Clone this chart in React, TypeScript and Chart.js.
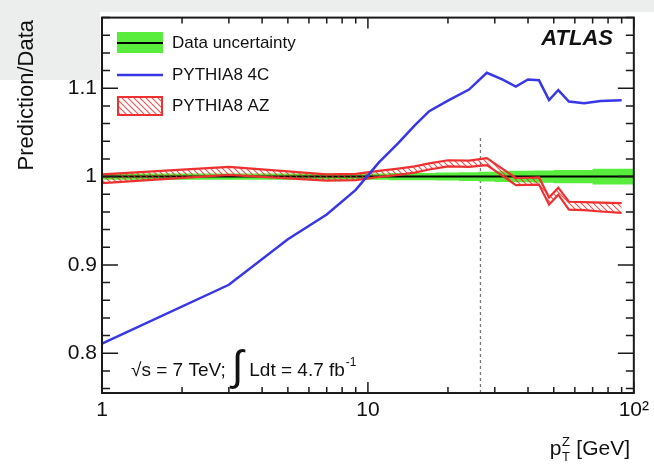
import React, { useEffect, useRef } from 'react';
import { Chart, registerables } from 'chart.js';

Chart.register(...registerables);

// ---- data ----
const binCenters = [1, 3, 5, 7, 9, 11, 13, 15, 17, 20, 24, 28, 32, 36, 40, 44, 48, 52, 57, 65, 75, 90];
const binEdges = [1, 2, 4, 6, 8, 10, 12, 14, 16, 18, 22, 26, 30, 34, 38, 42, 46, 50, 54, 60, 70, 80, 100];
const pythia4C = [0.811, 0.8775, 0.929, 0.957, 0.985, 1.016, 1.038, 1.058, 1.074, 1.086, 1.0985, 1.1175, 1.110, 1.102, 1.110, 1.109, 1.0865, 1.098, 1.085, 1.083, 1.0855, 1.0865];
const pythiaAZ = [0.9975, 1.0065, 1.002, 0.999, 0.9995, 1.003, 1.0055, 1.008, 1.0115, 1.015, 1.0145, 1.017, 1.005, 0.9944, 0.9947, 0.995, 0.9722, 0.9835, 0.967, 0.9665, 0.9655, 0.9645];
const pythiaAZHalf = [0.005, 0.0045, 0.004, 0.0035, 0.0035, 0.0035, 0.0035, 0.0035, 0.0035, 0.0035, 0.0035, 0.004, 0.004, 0.004, 0.004, 0.004, 0.004, 0.004, 0.0045, 0.0045, 0.005, 0.0055];
const dataRatio = [1, 1, 1, 1, 1, 1, 1, 1, 1, 1, 1, 1, 1, 1, 1, 1, 1, 1, 1, 1, 1, 1];
const dataUncHalf = [0.0035, 0.0035, 0.0035, 0.0035, 0.0035, 0.0035, 0.004, 0.004, 0.004, 0.0045, 0.005, 0.0055, 0.006, 0.0065, 0.0065, 0.007, 0.007, 0.0075, 0.0075, 0.0075, 0.009, 0.009];

const cutX = 26.5;
const cutYTop = 1.046;

const xMajorTicks = [1, 10, 100];
const xMajorLabels = ['1', '10', '10\u00B2'];
const xMinorTicks = [2, 3, 4, 5, 6, 7, 8, 9, 20, 30, 40, 50, 60, 70, 80, 90];
const yMajorTicks = [0.8, 0.9, 1.0, 1.1];
const yMajorLabels = ['0.8', '0.9', '1', '1.1'];
const yMinorTicks = [0.76, 0.78, 0.82, 0.84, 0.86, 0.88, 0.92, 0.94, 0.96, 0.98, 1.02, 1.04, 1.06, 1.08, 1.12, 1.14, 1.16, 1.18];

const legendLabels = ['Data uncertainty', 'PYTHIA8 4C', 'PYTHIA8 AZ'];

const FONT = '"Liberation Sans", Arial, Helvetica, sans-serif';
const BLUE = 'rgb(55,55,232)';
const RED = 'rgb(238,48,48)';
const GREEN = 'rgb(88,236,60)';

function makeHatch(): CanvasPattern | string {
  const c = document.createElement('canvas');
  c.width = 6;
  c.height = 6;
  const g = c.getContext('2d');
  if (!g) return 'rgba(236,52,52,0.3)';
  g.strokeStyle = 'rgba(236,52,52,0.85)';
  g.lineWidth = 1.1;
  g.beginPath();
  g.moveTo(-1, -1); g.lineTo(7, 7);
  g.moveTo(-1, 5); g.lineTo(1, 7);
  g.moveTo(5, -1); g.lineTo(7, 1);
  g.stroke();
  const p = g.createPattern(c, 'repeat');
  return p || 'rgba(236,52,52,0.3)';
}

export default function App() {
  const ref = useRef<HTMLCanvasElement | null>(null);

  useEffect(() => {
    const canvas = ref.current;
    if (!canvas) return;
    const hatch = makeHatch();

    const greenUpper: { x: number; y: number }[] = [];
    const greenLower: { x: number; y: number }[] = [];
    const central: { x: number; y: number }[] = [];
    dataUncHalf.forEach((h, i) => {
      greenUpper.push({ x: binEdges[i], y: dataRatio[i] + h }, { x: binEdges[i + 1], y: dataRatio[i] + h });
      greenLower.push({ x: binEdges[i], y: dataRatio[i] - h }, { x: binEdges[i + 1], y: dataRatio[i] - h });
      central.push({ x: binEdges[i], y: dataRatio[i] }, { x: binEdges[i + 1], y: dataRatio[i] });
    });
    const blue = binCenters.map((x, i) => ({ x, y: pythia4C[i] }));
    const azUp = binCenters.map((x, i) => ({ x, y: pythiaAZ[i] + pythiaAZHalf[i] }));
    const azLo = binCenters.map((x, i) => ({ x, y: pythiaAZ[i] - pythiaAZHalf[i] }));

    const bgPlugin = {
      id: 'bg',
      beforeDraw(chart: any) {
        const c = chart.ctx;
        c.save();
        c.fillStyle = '#ffffff';
        c.fillRect(0, 0, chart.width, chart.height);
        c.fillStyle = '#eceeee';
        c.fillRect(0, 0, chart.width, 12);
        c.fillRect(0, 0, 100, 80);
        c.restore();
      },
    };

    const framePlugin = {
      id: 'frame',
      afterDraw(chart: any) {
        const c = chart.ctx;
        const { left: L, right: R, top: T, bottom: B } = chart.chartArea;
        const xs = chart.scales.x;
        const ys = chart.scales.y;
        c.save();
        c.strokeStyle = '#1a1a1a';
        c.lineWidth = 1.5;
        c.beginPath();
        yMajorTicks.forEach((v) => {
          const p = ys.getPixelForValue(v);
          c.moveTo(L, p); c.lineTo(L + 16, p);
          c.moveTo(R, p); c.lineTo(R - 16, p);
        });
        yMinorTicks.forEach((v) => {
          const p = ys.getPixelForValue(v);
          c.moveTo(L, p); c.lineTo(L + 8, p);
          c.moveTo(R, p); c.lineTo(R - 8, p);
        });
        xMajorTicks.forEach((v) => {
          const p = xs.getPixelForValue(v);
          c.moveTo(p, B); c.lineTo(p, B - 11);
          c.moveTo(p, T); c.lineTo(p, T + 11);
        });
        xMinorTicks.forEach((v) => {
          const p = xs.getPixelForValue(v);
          c.moveTo(p, B); c.lineTo(p, B - 6);
          c.moveTo(p, T); c.lineTo(p, T + 6);
        });
        c.stroke();
        c.lineWidth = 2;
        c.strokeRect(L, T, R - L, B - T);

        // legend
        const lx = 117, lw = 46;
        c.fillStyle = GREEN;
        c.fillRect(lx, 32, lw, 21);
        c.strokeStyle = '#000';
        c.lineWidth = 2;
        c.beginPath(); c.moveTo(lx, 43); c.lineTo(lx + lw, 43); c.stroke();
        c.strokeStyle = BLUE;
        c.lineWidth = 2.5;
        c.beginPath(); c.moveTo(lx, 75); c.lineTo(lx + lw, 75); c.stroke();
        c.fillStyle = hatch as any;
        c.fillRect(lx, 96, lw, 20);
        c.strokeStyle = RED;
        c.lineWidth = 2;
        c.strokeRect(lx + 1, 97, lw - 2, 18);
        c.fillStyle = '#111';
        c.font = `17px ${FONT}`;
        c.textBaseline = 'middle';
        c.textAlign = 'left';
        c.fillText(legendLabels[0], 172, 43);
        c.fillText(legendLabels[1], 172, 75);
        c.fillText(legendLabels[2], 172, 106);

        // ATLAS
        c.font = `italic bold 22px ${FONT}`;
        c.textAlign = 'right';
        c.textBaseline = 'alphabetic';
        c.fillText('ATLAS', 613, 45);

        // annotation
        c.textAlign = 'left';
        c.font = `19px ${FONT}`;
        let ax = 131;
        const ab = 376;
        const s1 = '\u221As = 7 TeV;';
        c.fillText(s1, ax, ab);
        ax += c.measureText(s1).width + 6;
        c.font = `42px ${FONT}`;
        c.fillText('\u222B', ax, ab + 4);
        ax += c.measureText('\u222B').width + 6;
        c.font = `19px ${FONT}`;
        const s2 = 'Ldt = 4.7 fb';
        c.fillText(s2, ax, ab);
        ax += c.measureText(s2).width + 1;
        c.font = `12px ${FONT}`;
        c.fillText('-1', ax, ab - 10);

        // y title
        c.save();
        c.translate(27, 20);
        c.rotate(-Math.PI / 2);
        c.font = `22px ${FONT}`;
        c.textAlign = 'right';
        c.textBaseline = 'middle';
        c.fillText('Prediction/Data', 0, 0);
        c.restore();

        // x title
        c.font = `21px ${FONT}`;
        const wp = c.measureText('p').width;
        c.font = `13px ${FONT}`;
        const wsub = Math.max(c.measureText('T').width, c.measureText('Z').width);
        c.font = `21px ${FONT}`;
        const rest = ' [GeV]';
        const wr = c.measureText(rest).width;
        let tx = 630 - (wp + wsub + 1 + wr);
        const tb = 455;
        c.fillText('p', tx, tb);
        tx += wp + 0.5;
        c.font = `13px ${FONT}`;
        c.fillText('Z', tx, tb - 9);
        c.fillText('T', tx, tb + 6);
        tx += wsub + 0.5;
        c.font = `21px ${FONT}`;
        c.fillText(rest, tx, tb);
        c.restore();
      },
    };

    const chart = new Chart(canvas, {
      type: 'line',
      data: {
        datasets: [
          { data: blue, borderColor: BLUE, borderWidth: 2.5, fill: false, order: 0, pointRadius: 0 },
          { data: azUp, borderColor: RED, borderWidth: 2.2, fill: false, order: 1, pointRadius: 0 },
          { data: azLo, borderColor: RED, borderWidth: 2.2, fill: 1, backgroundColor: hatch as any, order: 1, pointRadius: 0 },
          { data: central, borderColor: '#000', borderWidth: 2, fill: false, order: 2, pointRadius: 0 },
          { data: greenUpper, borderColor: GREEN, borderWidth: 0, fill: false, order: 3, pointRadius: 0 },
          { data: greenLower, borderColor: GREEN, borderWidth: 0, fill: 4, backgroundColor: GREEN, order: 3, pointRadius: 0 },
          {
            data: [{ x: cutX, y: 0.755 }, { x: cutX, y: cutYTop }],
            borderColor: '#777', borderWidth: 1.3, borderDash: [3, 3], fill: false, order: 4, pointRadius: 0,
          },
        ] as any,
      },
      options: {
        animation: false,
        responsive: false,
        events: [],
        layout: { padding: { top: 13, right: 17, left: 0, bottom: 0 } },
        plugins: { legend: { display: false }, tooltip: { enabled: false } },
        elements: { point: { radius: 0 }, line: { tension: 0 } },
        scales: {
          x: {
            type: 'logarithmic',
            min: 1,
            max: 100,
            grid: { display: false, drawTicks: false },
            border: { display: false },
            afterBuildTicks: (s: any) => { s.ticks = xMajorTicks.map((v) => ({ value: v })); },
            afterFit: (s: any) => { s.height = 74; },
            ticks: {
              autoSkip: false,
              maxRotation: 0,
              padding: 5,
              color: '#111',
              font: { family: FONT, size: 21 },
              callback: (v: any) => {
                const i = xMajorTicks.findIndex((t) => Math.abs(t - Number(v)) < 1e-6);
                return i >= 0 ? xMajorLabels[i] : '';
              },
            },
          },
          y: {
            type: 'linear',
            min: 0.755,
            max: 1.18,
            grid: { display: false, drawTicks: false },
            border: { display: false },
            afterBuildTicks: (s: any) => { s.ticks = yMajorTicks.map((v) => ({ value: v })); },
            afterFit: (s: any) => { s.width = 102; },
            ticks: {
              autoSkip: false,
              padding: 5,
              color: '#111',
              font: { family: FONT, size: 21 },
              callback: (v: any) => {
                const i = yMajorTicks.findIndex((t) => Math.abs(t - Number(v)) < 1e-6);
                return i >= 0 ? yMajorLabels[i] : '';
              },
            },
          },
        },
      } as any,
      plugins: [bgPlugin, framePlugin],
    });
    return () => chart.destroy();
  }, []);

  return (
    <div style={{ position: 'fixed', left: 0, top: 0, width: 654, height: 467, background: '#fff' }}>
      <canvas ref={ref} width={654} height={467} style={{ display: 'block', width: 654, height: 467 }} />
    </div>
  );
}
